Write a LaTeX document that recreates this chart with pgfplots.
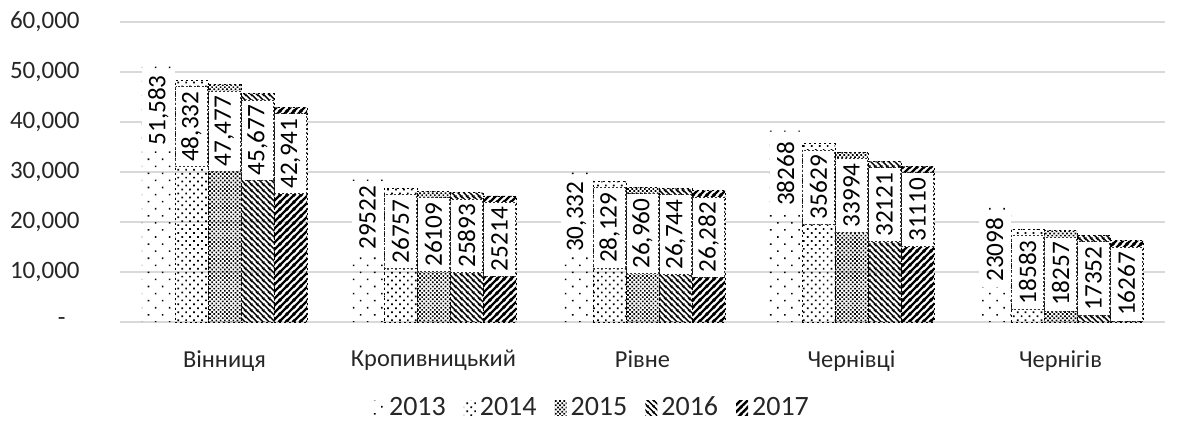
\documentclass[border=0pt]{standalone}
\usepackage{pgfplots}
\pgfplotsset{compat=1.18}
\usepackage{pgfplotstable}
\usepackage{fontspec}
\setmainfont{Carlito}
\usetikzlibrary{patterns,patterns.meta}
\definecolor{gridgray}{HTML}{D9D9D9}
\definecolor{txt}{HTML}{262626}

% diagonal line patterns drawn in unrotated tiles
\pgfdeclarepatternformonly{nwthick}{\pgfqpoint{0pt}{0pt}}{\pgfqpoint{3pt}{3pt}}{\pgfqpoint{3pt}{3pt}}{%
  \pgfsetlinewidth{0.8pt}%
  \pgfpathmoveto{\pgfqpoint{-1pt}{4pt}}\pgfpathlineto{\pgfqpoint{4pt}{-1pt}}%
  \pgfpathmoveto{\pgfqpoint{-1pt}{1pt}}\pgfpathlineto{\pgfqpoint{1pt}{-1pt}}%
  \pgfpathmoveto{\pgfqpoint{2pt}{4pt}}\pgfpathlineto{\pgfqpoint{4pt}{2pt}}%
  \pgfusepath{stroke}}
\pgfdeclarepatternformonly{nethick}{\pgfqpoint{0pt}{0pt}}{\pgfqpoint{3.6pt}{3.6pt}}{\pgfqpoint{3.6pt}{3.6pt}}{%
  \pgfsetlinewidth{1.3pt}%
  \pgfpathmoveto{\pgfqpoint{-1pt}{-1pt}}\pgfpathlineto{\pgfqpoint{4.6pt}{4.6pt}}%
  \pgfpathmoveto{\pgfqpoint{-1pt}{2.6pt}}\pgfpathlineto{\pgfqpoint{1pt}{4.6pt}}%
  \pgfpathmoveto{\pgfqpoint{2.6pt}{-1pt}}\pgfpathlineto{\pgfqpoint{4.6pt}{1pt}}%
  \pgfusepath{stroke}}

\pgfplotstableread{
x y lab
0 51583 51,583
1 29522 29522
2 30332 30,332
3 38268 38268
4 23098 23098
}\tA
\pgfplotstableread{
x y lab
0 48332 48,332
1 26757 26757
2 28129 28,129
3 35629 35629
4 18583 18583
}\tB
\pgfplotstableread{
x y lab
0 47477 47,477
1 26109 26109
2 26960 26,960
3 33994 33994
4 18257 18257
}\tC
\pgfplotstableread{
x y lab
0 45677 45,677
1 25893 25893
2 26744 26,744
3 32121 32121
4 17352 17352
}\tD
\pgfplotstableread{
x y lab
0 42941 42,941
1 25214 25214
2 26282 26,282
3 31110 31110
4 16267 16267
}\tE

\begin{document}
\fontsize{12}{14}\selectfont
\begin{tikzpicture}
\useasboundingbox (-60pt,-56.5pt) rectangle (533pt,161pt);
\begin{axis}[
  at={(0pt,0pt)}, anchor=south west,
  scale only axis, width=522.5pt, height=150pt,
  ybar=0pt, bar width=16.5pt,
  xmin=-0.5, xmax=4.5, ymin=0, ymax=60000,
  scaled y ticks=false,
  xtick={0,1,2,3,4},
  xticklabels={Вінниця,Кропивницький,Рівне,Чернівці,Чернігів},
  ytick={0,10000,20000,30000,40000,50000,60000},
  yticklabels={-\kern7pt,{10,000},{20,000},{30,000},{40,000},{50,000},{60,000}},
  axis x line*=bottom, axis y line*=left,
  y axis line style={draw=none},
  x axis line style={draw=gridgray, line width=1pt, -},
  tick style={draw=none}, major tick length=0pt,
  ymajorgrids, grid style={gridgray, line width=1pt},
  yticklabel style={font=\fontsize{12.5}{14}\selectfont, text=txt, xshift=-16pt},
  xticklabel style={font=\fontsize{12.2}{14}\selectfont, text=txt, yshift=-10pt},
  point meta=explicit symbolic,
  nodes near coords,
  every node near coord/.append style={font=\fontsize{12.6}{15}\selectfont, text=black,
     yshift=-3pt, rotate=90, anchor=east, fill=white, draw=black!80,
     dash pattern=on 1pt off 1pt, line width=0.3pt,
     minimum height=16pt, inner xsep=2.5pt, inner ysep=1pt},
  legend style={at={(0.4526,-0.287)}, anchor=center, draw=none, fill=none,
     legend columns=5, font=\fontsize{14}{16}\selectfont, text=txt,
     /tikz/every even column/.append style={column sep=7pt}},
  legend image code/.code={\path[#1,draw=none] (0pt,-3.5pt) rectangle (6pt,4pt);},
]
\addplot[draw=none, pattern={Dots[distance=5pt, radius=0.55pt, angle=45]},
  every node near coord/.append style={draw=none}]
  table[x=x,y=y,meta=lab] {\tA};
\addplot[draw=black, dash pattern=on 1pt off 1.5pt, line width=0.4pt, pattern={Dots[distance=2.8pt, radius=0.6pt, angle=45]}]
  table[x=x,y=y,meta=lab] {\tB};
\addplot[draw=black, dash pattern=on 1pt off 1.5pt, line width=0.4pt, pattern={Dots[distance=1.5pt, radius=0.6pt, angle=45]}]
  table[x=x,y=y,meta=lab] {\tC};
\addplot[draw=black, dash pattern=on 1pt off 1.5pt, line width=0.4pt, pattern=nwthick]
  table[x=x,y=y,meta=lab] {\tD};
\addplot[draw=black, dash pattern=on 1pt off 1.5pt, line width=0.4pt, pattern=nethick]
  table[x=x,y=y,meta=lab] {\tE};
\legend{2013,2014,2015,2016,2017}
\end{axis}
\end{tikzpicture}
\end{document}
